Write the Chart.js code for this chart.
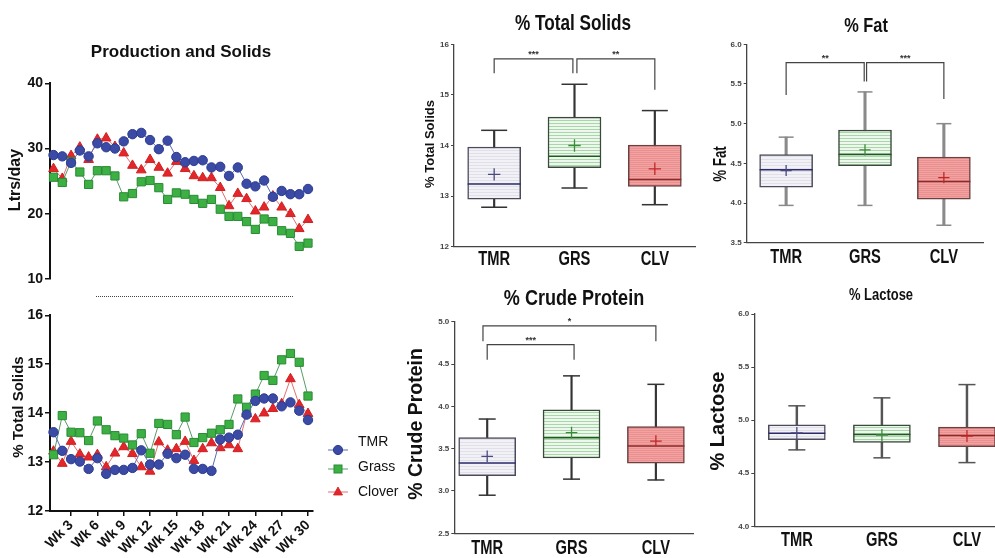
<!DOCTYPE html>
<html><head><meta charset="utf-8">
<script src="https://cdn.jsdelivr.net/npm/chart.js@4.4.0/dist/chart.umd.min.js"></script>
<style>
html,body{margin:0;padding:0;background:#fff;width:995px;height:558px;overflow:hidden;position:relative;font-family:'Liberation Sans',Arial,sans-serif;}
canvas{position:absolute;}
.t{position:absolute;transform:translate(-50%,-50%);white-space:nowrap;font-weight:bold;color:#111;line-height:1;}
.r{transform:translate(-50%,-50%) rotate(-90deg);}
.lg{position:absolute;font-size:14px;color:#111;line-height:1;transform:translateY(-50%);}
.sym{position:absolute;}
</style></head><body>

<canvas id="c1" style="left:0;top:0" width="340" height="300"></canvas>
<canvas id="c2" style="left:0;top:300px" width="340" height="258"></canvas>
<canvas id="c3" style="left:400px;top:0" width="300" height="280"></canvas>
<canvas id="c4" style="left:700px;top:0" width="295" height="280"></canvas>
<canvas id="c5" style="left:400px;top:280px" width="300" height="278"></canvas>
<canvas id="c6" style="left:700px;top:280px" width="330" height="278"></canvas>

<div class="t" style="left:181px;top:51px;font-size:17px">Production and Solids</div>
<div class="t r" style="left:15px;top:180px;font-size:16px">Ltrs/day</div>
<div class="t r" style="left:17px;top:407px;font-size:15px">% Total Solids</div>
<div style="position:absolute;left:96px;top:296px;width:197px;border-top:1px dotted #444;"></div>

<svg class="sym" style="left:326px;top:440px" width="24" height="60">
  <line x1="2" y1="10" x2="22" y2="10" stroke="#5b6bb3" stroke-width="1"/>
  <circle cx="12" cy="10" r="4.6" fill="#3a4aa5" stroke="#2c3c90" stroke-width="1"/>
  <line x1="2" y1="29" x2="22" y2="29" stroke="#5a9a6a" stroke-width="1"/>
  <rect x="8" y="25" width="8" height="8" fill="#3cb043" stroke="#2a8a35" stroke-width="1"/>
  <line x1="2" y1="52" x2="22" y2="52" stroke="#e07070" stroke-width="1"/>
  <polygon points="12,47 16.5,55 7.5,55" fill="#e3262b" stroke="#d02020" stroke-width="0.8"/>
</svg>
<div class="lg" style="left:358px;top:441px">TMR</div>
<div class="lg" style="left:358px;top:466px">Grass</div>
<div class="lg" style="left:358px;top:491px">Clover</div>

<div class="t" style="left:573px;top:23px;font-size:22px;transform:translate(-50%,-50%) scaleX(0.78)">% Total Solids</div>
<div class="t" style="left:866px;top:24px;font-size:21px;transform:translate(-50%,-50%) scaleX(0.78)">% Fat</div>
<div class="t" style="left:574px;top:298px;font-size:22px;transform:translate(-50%,-50%) scaleX(0.82)">% Crude Protein</div>
<div class="t" style="left:881px;top:295px;font-size:16px;transform:translate(-50%,-50%) scaleX(0.81)">% Lactose</div>

<div class="t r" style="left:429px;top:144px;font-size:13px">% Total Solids</div>
<div class="t" style="left:720px;top:164px;font-size:18px;transform:translate(-50%,-50%) rotate(-90deg) scaleX(0.74)">% Fat</div>
<div class="t r" style="left:416px;top:424px;font-size:19.5px">% Crude Protein</div>
<div class="t r" style="left:717px;top:421px;font-size:20px">% Lactose</div>

<script>
// ---------- data ----------
const weeks = [1,2,3,4,5,6,7,8,9,10,11,12,13,14,15,16,17,18,19,20,21,22,23,24,25,26,27,28,29,30];
const weekTicks = [3,6,9,12,15,18,21,24,27,30];
const seriesNames = ['TMR','Grass','Clover'];
const tmrYield = [29.0,28.8,27.8,29.7,28.8,30.8,30.2,30.0,31.1,32.2,32.4,31.3,29.9,31.2,28.7,27.9,28.1,28.2,27.1,27.2,25.8,27.1,24.6,24.2,25.1,22.6,23.5,23.0,23.0,23.8];
const grassYield = [25.6,24.8,28.0,26.4,24.5,26.6,26.6,25.8,22.6,23.1,24.9,25.1,24.0,22.2,23.2,23.0,22.2,21.6,22.2,20.7,19.6,19.6,18.8,17.6,19.2,18.8,17.4,17.0,15.0,15.5];
const cloverYield = [26.9,25.4,28.9,30.2,28.3,31.4,31.6,30.3,29.3,27.4,26.7,28.3,27.1,26.2,28.0,26.9,25.8,25.5,25.5,24.0,21.2,23.1,22.3,20.4,21.0,22.7,21.0,20.0,17.7,19.1];
const tmrSolids = [13.61,13.23,13.06,13.01,12.86,13.08,12.76,12.84,12.84,12.88,13.24,12.95,12.95,13.17,13.08,13.15,12.86,12.86,12.82,13.46,13.50,13.56,13.97,14.25,14.30,14.30,14.14,14.22,14.05,13.86];
const grassSolids = [13.15,13.95,13.61,13.60,13.44,13.84,13.66,13.54,13.49,13.35,13.58,13.18,13.79,13.77,13.56,13.92,13.40,13.50,13.59,13.66,13.77,14.29,14.12,14.39,14.77,14.67,15.09,15.22,15.04,14.35];
const cloverSolids = [13.22,12.97,13.42,13.16,13.10,13.15,12.90,13.18,13.31,13.17,12.90,12.81,13.41,13.24,13.27,13.42,13.03,13.27,13.39,13.29,13.35,13.27,13.99,13.88,14.00,14.09,14.19,14.70,14.17,13.99];

const groups = ['TMR','GRS','CLV'];
// % Total Solids
const tsMin = [12.78,13.16,12.83];
const tsQ1 = [12.94,13.56,13.19];
const tsMedian = [13.24,13.79,13.33];
const tsQ3 = [13.97,14.56,14.01];
const tsMax = [14.30,15.21,14.69];
const tsMean = [13.43,14.00,13.54];
const tsBrackets = [[1,1.98,15.71,15.43,15.43,'***'],[2.03,3,15.71,15.43,15.10,'**']];
// % Fat
const fatMin = [3.97,3.97,3.72];
const fatQ1 = [4.20,4.47,4.05];
const fatMedian = [4.42,4.61,4.27];
const fatQ3 = [4.61,4.92,4.58];
const fatMax = [4.83,5.40,5.00];
const fatMean = [4.41,4.67,4.32];
const fatBrackets = [[1,1.99,5.77,5.36,5.53,'**'],[2.02,3,5.77,5.53,5.31,'***']];
// % Crude Protein
const cpMin = [2.95,3.14,3.13];
const cpQ1 = [3.18,3.39,3.33];
const cpMedian = [3.33,3.63,3.53];
const cpQ3 = [3.63,3.96,3.76];
const cpMax = [3.85,4.36,4.26];
const cpMean = [3.41,3.69,3.59];
const cpBrackets = [[0.95,3,4.95,4.77,4.77,'*'],[1,2.03,4.73,4.55,4.55,'***']];
// % Lactose
const lacMin = [4.72,4.645,4.60];
const lacQ1 = [4.815,4.79,4.75];
const lacMedian = [4.877,4.865,4.855];
const lacQ3 = [4.956,4.956,4.934];
const lacMax = [5.135,5.21,5.335];
const lacMean = [4.88,4.86,4.85];

// ---------- helpers ----------
const ARIAL = "'Liberation Sans', Arial, sans-serif";
Chart.defaults.font.family = ARIAL;

const seriesStyle = [
  {line:'#5b6bb3', fill:'#3a4aa5', edge:'#2c3c90', style:'circle', r:4.7},
  {line:'#5a9a6a', fill:'#3cb043', edge:'#2a8a35', style:'rect', r:5.8},
  {line:'#e07070', fill:'#e3262b', edge:'#d02020', style:'triangle', r:5.6}
];
function lineSets(arrs){
  return arrs.map((arr,k)=>({
    label: seriesNames[k],
    data: weeks.map((w,i)=>({x:w,y:arr[i]})),
    borderColor: seriesStyle[k].line, borderWidth: 1,
    pointStyle: seriesStyle[k].style, pointRadius: seriesStyle[k].r,
    pointBackgroundColor: seriesStyle[k].fill, pointBorderColor: seriesStyle[k].edge,
    pointBorderWidth: 1, tension: 0, clip: false
  }));
}
const baseOpts = {responsive:false, devicePixelRatio:1, animation:false, events:[]};

// ---------- chart 1 : yield ----------
new Chart(document.getElementById('c1'), {
  type:'line',
  data:{datasets: lineSets([tmrYield, grassYield, cloverYield])},
  options:Object.assign({}, baseOpts, {
    plugins:{legend:{display:false}, tooltip:{enabled:false}},
    layout:{autoPadding:false, padding:{left:0,right:27,top:83.3,bottom:21}},
    scales:{
      x:{type:'linear', display:false, min:0.6, max:30.57},
      y:{min:10, max:40, ticks:{stepSize:10, color:'#111', padding:2, font:{size:14, weight:'bold'}},
         grid:{drawOnChartArea:false, drawTicks:true, tickLength:5, color:'#111', lineWidth:1.5},
         border:{display:true, color:'#111', width:2},
         afterFit(s){ s.width = 50; }}
    }
  })
});

// ---------- chart 2 : solids by week ----------
new Chart(document.getElementById('c2'), {
  type:'line',
  data:{datasets: lineSets([tmrSolids, grassSolids, cloverSolids])},
  options:Object.assign({}, baseOpts, {
    plugins:{legend:{display:false}, tooltip:{enabled:false}},
    layout:{autoPadding:false, padding:{left:0,right:27,top:15.3,bottom:0}},
    scales:{
      x:{type:'linear', min:0.6, max:30.57,
         afterBuildTicks(s){ s.ticks = weekTicks.map(v=>({value:v})); },
         ticks:{autoSkip:false, maxRotation:45, minRotation:45, padding:1, color:'#111',
                font:{size:14, weight:'bold'}, callback:(v)=>'Wk ' + v},
         grid:{drawOnChartArea:false, drawTicks:true, tickLength:5, color:'#111', lineWidth:1.5},
         border:{display:true, color:'#111', width:2},
         afterFit(s){ s.height = 47; }},
      y:{min:12, max:16, ticks:{stepSize:1, color:'#111', padding:2, font:{size:14, weight:'bold'}},
         grid:{drawOnChartArea:false, drawTicks:true, tickLength:5, color:'#111', lineWidth:1.5},
         border:{display:true, color:'#111', width:2},
         afterFit(s){ s.width = 50; }}
    }
  })
});

// ---------- box plots ----------
function stripe(bg, line, period, lw){
  const c = document.createElement('canvas'); c.width = 4; c.height = period;
  const x = c.getContext('2d');
  x.fillStyle = bg; x.fillRect(0,0,4,period);
  x.fillStyle = line; x.fillRect(0,0,4,lw);
  return x.createPattern(c,'repeat');
}
const boxFill = [stripe('#f1f1f6','#e0e0ea',3,1), stripe('#eef7ee','#a8d6a8',3,1), stripe('#f3a2a2','#ea9090',2,1)];
const boxEdge = ['#4a4a5a','#3a4a3a','#6a4040'];
const medColor = ['#2b2b6b','#1f5a1f','#8b2a2a'];
const meanColor = ['#4a4a80','#3a8a3a','#c02828'];

// significance stars above the brackets + condensed category labels on the x scale
const annotPlugin = {
  id:'annot',
  afterDraw(chart){
    const o = chart.options.plugins.annot;
    if(!o) return;
    const ctx = chart.ctx, xs = chart.scales.x, ys = chart.scales.y;
    ctx.save();
    ctx.fillStyle = '#333'; ctx.font = 'bold 9px ' + ARIAL;
    ctx.textAlign = 'center'; ctx.textBaseline = 'middle';
    (o.brackets||[]).forEach(b=>{
      ctx.fillText(b[5], xs.getPixelForValue((b[0]+b[1])/2), ys.getPixelForValue(b[2]) - 4);
    });
    ctx.fillStyle = '#111'; ctx.font = 'bold 21px ' + ARIAL;
    groups.forEach((g,i)=>{
      ctx.save();
      ctx.translate(xs.getPixelForValue(i+1), chart.chartArea.bottom + o.dy);
      ctx.scale(0.7, 1);
      ctx.fillText(g, 0, 0);
      ctx.restore();
    });
    ctx.restore();
  }
};

function boxChart(id, mn, q1, med, q3, mx, mean, brackets, o){
  const pts = arr => arr.map((v,i)=>({x:i+1, y:v}));
  const ds = [
    {type:'line', data:pts(mean), showLine:false, pointStyle:'cross', pointRadius:o.meanR,
     pointBorderColor:meanColor, pointBorderWidth:1.3, order:0, clip:false},
    {type:'line', data:pts(med), showLine:false, pointStyle:'line', pointRadius:o.bw/2,
     pointBorderColor:medColor, pointBorderWidth:1.5, order:1, clip:false},
    {type:'bar', data:q1.map((v,i)=>({x:i+1, y:[v, q3[i]]})), backgroundColor:boxFill,
     borderColor:boxEdge, borderWidth:1.5, borderSkipped:false, barThickness:o.bw, grouped:false, order:2},
    {type:'line', data:pts(mn).concat(pts(mx)), showLine:false, pointStyle:'line', pointRadius:o.cap,
     pointBorderColor:o.wc, pointBorderWidth:1.5, order:3, clip:false},
    {type:'bar', data:mn.map((v,i)=>({x:i+1, y:[v, mx[i]]})), backgroundColor:o.wc,
     barThickness:o.ww, grouped:false, order:4}
  ];
  (brackets||[]).forEach(b=>{
    ds.push({type:'line', data:[{x:b[0],y:b[3]},{x:b[0],y:b[2]},{x:b[1],y:b[2]},{x:b[1],y:b[4]}],
      borderColor:'#444', borderWidth:1.2, pointRadius:0, tension:0, order:-1, clip:false});
  });
  new Chart(document.getElementById(id), {
    type:'bar',
    data:{datasets:ds},
    plugins:[annotPlugin],
    options:Object.assign({}, baseOpts, {
      plugins:{legend:{display:false}, tooltip:{enabled:false}, annot:{brackets:brackets, dy:o.dy}},
      layout:{autoPadding:false, padding:{left:0, right:o.right, top:o.top, bottom:0}},
      scales:{
        x:{type:'linear', offset:false, min:o.xmin, max:o.xmax,
           afterBuildTicks(s){ s.ticks = groups.map((g,i)=>({value:i+1})); },
           ticks:{display:false},
           grid:{display:false, drawTicks:false},
           border:{display:true, color:'#444', width:1.3},
           afterFit(s){ s.height = o.xh; }},
        y:{min:o.ymin, max:o.ymax,
           ticks:{stepSize:o.step, color:'#444', padding:2, font:{size:8, weight:'bold'},
                  callback:(v)=>v.toFixed(o.dec)},
           grid:{drawOnChartArea:false, drawTicks:true, tickLength:3, color:'#444', lineWidth:1},
           border:{display:true, color:'#444', width:1.3},
           afterFit(s){ s.width = o.left; }}
      }
    })
  });
}

boxChart('c3', tsMin, tsQ1, tsMedian, tsQ3, tsMax, tsMean, tsBrackets,
  {bw:53, cap:13, meanR:6.2, ww:1.5, wc:'#333', xmin:0.5, xmax:3.5, ymin:12, ymax:16, step:1, dec:0,
   left:54, right:5, top:44.3, xh:33.3, dy:13});
boxChart('c4', fatMin, fatQ1, fatMedian, fatQ3, fatMax, fatMean, fatBrackets,
  {bw:53, cap:7.5, meanR:5.6, ww:2.4, wc:'#8a8a8a', xmin:0.5, xmax:3.5, ymin:3.5, ymax:6, step:0.5, dec:1,
   left:46.7, right:11.7, top:44.3, xh:37.3, dy:14.5});
boxChart('c5', cpMin, cpQ1, cpMedian, cpQ3, cpMax, cpMean, cpBrackets,
  {bw:57, cap:8.5, meanR:5.8, ww:1.5, wc:'#333', xmin:0.61, xmax:3.44, ymin:2.5, ymax:5, step:0.5, dec:1,
   left:54.3, right:7, top:41.7, xh:24.7, dy:15});
boxChart('c6', lacMin, lacQ1, lacMedian, lacQ3, lacMax, lacMean, null,
  {bw:57, cap:8.5, meanR:6, ww:1.8, wc:'#555', xmin:0.5, xmax:3.5, ymin:4, ymax:6, step:0.5, dec:1,
   left:54.3, right:20.5, top:34, xh:31.7, dy:14});
</script>
</body></html>
